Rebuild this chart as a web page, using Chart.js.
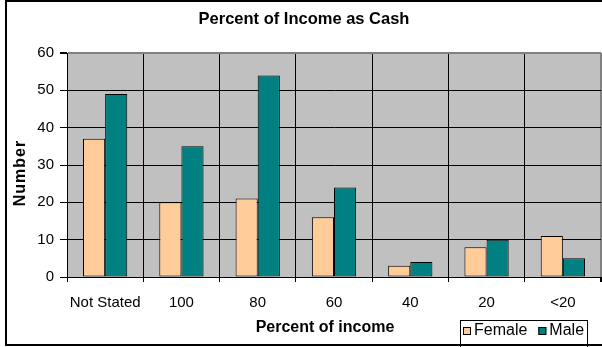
<!DOCTYPE html>
<html>
<head>
<meta charset="utf-8">
<script src="https://cdn.jsdelivr.net/npm/chart.js@4.4.0/dist/chart.umd.min.js"></script>
<style>
  html, body { margin: 0; padding: 0; background: #fff; }
  canvas { display: block; }
</style>
</head>
<body>
<canvas id="chart" width="602" height="347"></canvas>
<script>
const categories = ['Not Stated', '100', '80', '60', '40', '20', '<20'];
const female = [37, 20, 21, 16, 3, 8, 11];
const male = [49, 35, 54, 24, 4, 10, 5];
const yTicks = [0, 10, 20, 30, 40, 50, 60];

const FONT = 'Arial, "Liberation Sans", sans-serif';
const plotGrey = '#c0c0c0';
const edgeGrey = '#808080';

// plot background, axis titles, boxed legend and the outer frame
const excelLook = {
  id: 'excelLook',
  beforeDraw(chart) {
    const { ctx, chartArea: a } = chart;
    ctx.save();
    ctx.fillStyle = '#fff';
    ctx.fillRect(0, 0, chart.width, chart.height);
    ctx.fillStyle = plotGrey;
    ctx.fillRect(a.left, a.top, a.right - a.left, a.bottom - a.top);
    ctx.restore();
  },
  afterDraw(chart) {
    const { ctx } = chart;
    ctx.save();
    ctx.fillStyle = '#000';
    ctx.font = 'bold 16px ' + FONT;
    ctx.textAlign = 'center';
    ctx.textBaseline = 'middle';
    ctx.fillText('Percent of income', 325, 328);

    ctx.save();
    ctx.translate(21, 173);
    ctx.rotate(-Math.PI / 2);
    ctx.letterSpacing = '1px';
    ctx.fillText('Number', 0, 0);
    ctx.restore();

    // legend
    ctx.font = '16px ' + FONT;
    ctx.textAlign = 'left';
    const left = 460, top = 320;
    let x = left + 3;
    const items = chart.data.datasets.map(ds => {
      const w = ctx.measureText(ds.label).width;
      return { ds, w };
    });
    const boxW = items.reduce((s, it) => s + 8 + 3 + it.w + 11, 3) - 8;
    ctx.fillStyle = '#fff';
    ctx.fillRect(left, top, boxW, 30);
    ctx.strokeStyle = '#000';
    ctx.lineWidth = 1;
    ctx.strokeRect(left + 0.5, top + 0.5, boxW, 30);
    items.forEach(({ ds, w }) => {
      ctx.fillStyle = ds.backgroundColor;
      ctx.fillRect(x, 327, 8, 8);
      ctx.strokeRect(x + 0.5, 327.5, 7, 7);
      ctx.fillStyle = '#000';
      ctx.fillText(ds.label, x + 11, 331);
      x += 8 + 3 + w + 11;
    });

    // outer chart frame
    ctx.lineWidth = 2;
    ctx.strokeRect(6, 1, 620, 344);
    ctx.restore();
  }
};

new Chart(document.getElementById('chart'), {
  type: 'bar',
  data: {
    labels: categories,
    datasets: [
      { label: 'Female', data: female, backgroundColor: '#ffcc99', borderColor: '#000', borderWidth: 1, borderSkipped: false },
      { label: 'Male', data: male, backgroundColor: '#008080', borderColor: '#000', borderWidth: 1, borderSkipped: false }
    ]
  },
  options: {
    responsive: false,
    animation: false,
    devicePixelRatio: 1,
    layout: { padding: { left: 7, right: 1, top: 0, bottom: 0 } },
    datasets: { bar: { barPercentage: 1, categoryPercentage: 0.58 } },
    plugins: {
      legend: { display: false },
      tooltip: { enabled: false },
      title: {
        display: true,
        text: 'Percent of Income as Cash',
        color: '#000',
        font: { family: FONT, size: 16.5, weight: 'bold' },
        padding: { top: 10, bottom: 23.2 }
      }
    },
    scales: {
      x: {
        offset: true,
        grid: {
          offset: true,
          color: c => c.index === undefined ? edgeGrey : '#000',
          lineWidth: c => c.index === undefined ? 2 : 1,
          tickLength: 5,
          tickColor: '#000'
        },
        border: { color: '#000', width: 1 },
        ticks: { color: '#000', font: { family: FONT, size: 15 }, padding: 12, maxRotation: 0, autoSkip: false },
        afterFit: s => { s.height = 70; }
      },
      y: {
        min: 0,
        max: 60,
        afterBuildTicks: s => { s.ticks = yTicks.map(v => ({ value: v })); },
        grid: {
          color: c => c.tick && c.tick.value === 60 ? edgeGrey : '#000',
          lineWidth: c => c.tick && c.tick.value === 60 ? 2 : 1,
          tickLength: 7,
          tickColor: '#000'
        },
        border: { color: '#000', width: 1 },
        ticks: { color: '#000', font: { family: FONT, size: 15 }, padding: 6 },
        afterFit: s => { s.width = 60; }
      }
    }
  },
  plugins: [excelLook]
});
</script>
</body>
</html>
